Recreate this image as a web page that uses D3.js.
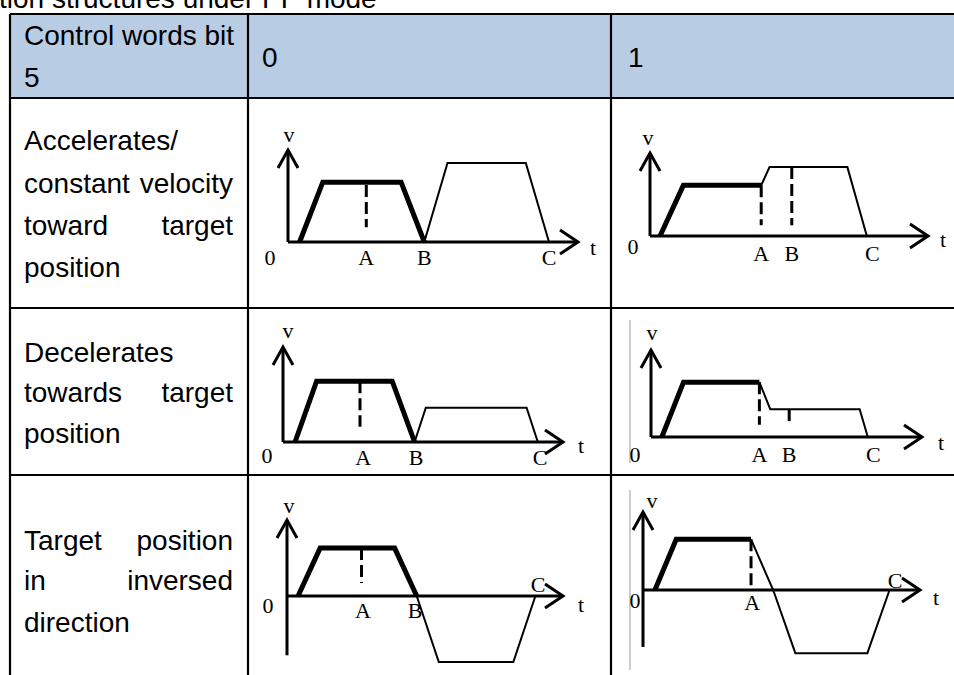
<!DOCTYPE html>
<html><head><meta charset="utf-8">
<script src="https://cdn.jsdelivr.net/npm/d3@7"></script>
<style>body{margin:0;background:#fff;overflow:hidden} svg{display:block}</style>
</head><body><svg id="c" width="954" height="675"></svg>
<script>
// ---------- DATA ----------
const titleText = "tion structures under PP mode";
const headerLines = [["Control words bit", "5"], ["0"], ["1"]];
const rowTexts = [
  [["Accelerates/", false], ["constant velocity", true], ["toward target", true], ["position", false]],
  [["Decelerates", false], ["towards target", true], ["position", false]],
  [["Target position", true], ["in inversed", true], ["direction", false]]
];
// velocity profiles: [time, velocity] in % of axis length
const panelBold = [
  [[4, 0], [12, 65], [39, 65], [47, 0]],
  [[3.6, 0], [12, 61], [40, 61]],
  [[4.3, 0], [12, 64], [39, 64], [47, 0]],
  [[4, 0], [12, 63], [40, 63]],
  [[4, 0], [12, 63], [39, 63], [47, 0]],
  [[4.3, 0], [12, 65], [39, 65]]
];
const panelThin = [
  [[47, 0], [55, 86], [82, 86], [90, 0]],
  [[40, 61], [43, 83], [71, 83], [78, 0]],
  [[47, 0], [51, 36], [87, 36], [91, 0]],
  [[40, 63], [44, 32], [77, 32], [80, 0]],
  [[47, 0], [55, -87], [82, -87], [90, 0]],
  [[39, 65], [47, 0], [55, -81], [81, -81], [89, 0]]
];
// dashed markers: [time, vTop, vBottom]
const panelDash = [
  [[27, 62, 16]],
  [[40, 61, 13], [51, 83, 13]],
  [[27.5, 64, 16]],
  [[40, 63, 14], [51, 32, 14]],
  [[27, 63, 17]],
  [[39, 65, 4]]
];
// time tick labels: [label, time, above axis?]
const panelTicks = [
  [["A", 27, false], ["B", 47, false], ["C", 90, false]],
  [["A", 40, false], ["B", 51, false], ["C", 80, false]],
  [["A", 28.6, false], ["B", 47.5, false], ["C", 91.8, false]],
  [["A", 40, false], ["B", 51, false], ["C", 82, false]],
  [["A", 27.5, false], ["B", 46.4, false], ["C", 91, true]],
  [["A", 39.4, false], ["C", 91, true]]
];
// lower end of the v axis (velocity units)
const vAxisMin = [0, 0, 0, 0, -78, -73];

// ---------- LAYOUT ----------
const L = {
  left: 10, top: 14, headBottom: 98, cols: [248, 611], rows: [308, 475],
  textX: 24, textRight: 233,
  headerX: [24, 262, 628], headerBase: [[45, 87], [67], [67]],
  rowBase: [[150, 193, 235, 277], [362, 402, 443], [550, 590, 632]],
  panels: [
    {ox: 288, oy: 242, w: 290, h: 92, z: [-18, 23], lab: 23, up: -4, v: [1, -8], t: [12, 13]},
    {ox: 650, oy: 236, w: 278, h: 83, z: [-17, 18], lab: 25, up: -4, v: [-2, -8], t: [12, 11]},
    {ox: 283, oy: 442, w: 280, h: 95, z: [-16, 21], lab: 23, up: -4, v: [5, -9], t: [15, 11]},
    {ox: 651, oy: 437, w: 271, h: 87, z: [-16, 25], lab: 25, up: -4, v: [1, -10], t: [16, 13], frame: [630, 320, 463]},
    {ox: 287, oy: 596, w: 276, h: 76, z: [-19, 17], lab: 22, up: -4, v: [2, -7], t: [15, 16]},
    {ox: 643, oy: 590, w: 277, h: 78, z: [-8, 18], lab: 20, up: -2, v: [9, -4], t: [13, 15], frame: [630, 490, 670]}
  ]
};

const svg = d3.select("#c");
const sans = "'Liberation Sans', Arial, sans-serif";
const serif = "'Liberation Serif', 'Times New Roman', serif";

// title (cropped at the top of the page)
svg.append("text").attr("x", -1).attr("y", 8).attr("font-family", sans).attr("font-size", 28)
  .attr("fill", "#000").text(titleText);

// header background
svg.append("rect").attr("x", L.left).attr("y", L.top).attr("width", 954 - L.left)
  .attr("height", L.headBottom - L.top).attr("fill", "#b8cce4");

// table grid
const grid = svg.append("g").attr("stroke", "#000").attr("stroke-width", 2.2);
grid.append("line").attr("x1", L.left).attr("x2", 960).attr("y1", L.top).attr("y2", L.top);
[L.headBottom, ...L.rows].forEach(y => grid.append("line").attr("x1", L.left).attr("x2", 960).attr("y1", y).attr("y2", y));
[L.left, ...L.cols].forEach(x => grid.append("line").attr("x1", x).attr("x2", x).attr("y1", L.top).attr("y2", 700));

// header text
const tg = svg.append("g").attr("font-family", sans).attr("font-size", 28).attr("fill", "#000");
headerLines.forEach((lines, i) => lines.forEach((s, j) =>
  tg.append("text").attr("x", L.headerX[i]).attr("y", L.headerBase[i][j]).text(s)));

// row text (justified)
function drawLine(text, y, justify) {
  const words = text.split(" ");
  if (!justify || words.length < 2) { tg.append("text").attr("x", L.textX).attr("y", y).text(text); return; }
  const nodes = words.map(w => tg.append("text").attr("y", y).text(w));
  const widths = nodes.map(n => n.node().getComputedTextLength());
  const gap = (L.textRight - L.textX - d3.sum(widths)) / (words.length - 1);
  let x = L.textX;
  nodes.forEach((n, i) => { n.attr("x", x); x += widths[i] + gap; });
}
rowTexts.forEach((lines, r) => lines.forEach(([s, j], k) => drawLine(s, L.rowBase[r][k], j)));

// diagrams
L.panels.forEach((p, i) => {
  const g = svg.append("g");
  const x = d3.scaleLinear().domain([0, 100]).range([p.ox, p.ox + p.w]);
  const y = d3.scaleLinear().domain([0, 100]).range([p.oy, p.oy - p.h]);
  const line = d3.line().x(d => x(d[0])).y(d => y(d[1]));

  if (p.frame) g.append("line").attr("x1", p.frame[0]).attr("x2", p.frame[0])
    .attr("y1", p.frame[1]).attr("y2", p.frame[2]).attr("stroke", "#9a9a9a").attr("stroke-width", 1);

  // axes with open arrowheads
  const ax = g.append("g").attr("stroke", "#000").attr("stroke-width", 3).attr("fill", "none");
  ax.append("path").attr("d", line([[0, vAxisMin[i]], [0, 100]]));
  ax.append("path").attr("d", line([[0, 0], [100, 0]]));
  ax.append("path").attr("d", `M${x(0) - 10},${y(100) + 18}L${x(0)},${y(100)}L${x(0) + 10},${y(100) + 18}`);
  ax.append("path").attr("d", `M${x(100) - 18},${y(0) - 12}L${x(100)},${y(0)}L${x(100) - 18},${y(0) + 12}`);

  // dashed markers
  panelDash[i].forEach(([t, a, b]) => g.append("path").attr("d", line([[t, a], [t, b]]))
    .attr("stroke", "#000").attr("stroke-width", 3).attr("stroke-dasharray", "12,5").attr("fill", "none"));

  // profiles
  g.append("path").attr("d", line(panelThin[i])).attr("stroke", "#000").attr("stroke-width", 2)
    .attr("fill", "none").attr("stroke-linejoin", "miter");
  g.append("path").attr("d", line(panelBold[i])).attr("stroke", "#000").attr("stroke-width", 5)
    .attr("fill", "none").attr("stroke-linejoin", "miter");

  // labels
  const lg = g.append("g").attr("font-family", serif).attr("font-size", 22).attr("fill", "#000")
    .attr("text-anchor", "middle");
  panelTicks[i].forEach(([s, t, up]) => lg.append("text").attr("x", x(t))
    .attr("y", y(0) + (up ? p.up : p.lab)).text(s));
  lg.append("text").attr("x", x(0) + p.z[0]).attr("y", y(0) + p.z[1]).text("0");
  lg.append("text").attr("x", x(0) + p.v[0]).attr("y", y(100) + p.v[1]).text("v");
  lg.append("text").attr("x", x(100) + p.t[0]).attr("y", y(0) + p.t[1]).attr("text-anchor", "start").text("t");
});
</script></body></html>
